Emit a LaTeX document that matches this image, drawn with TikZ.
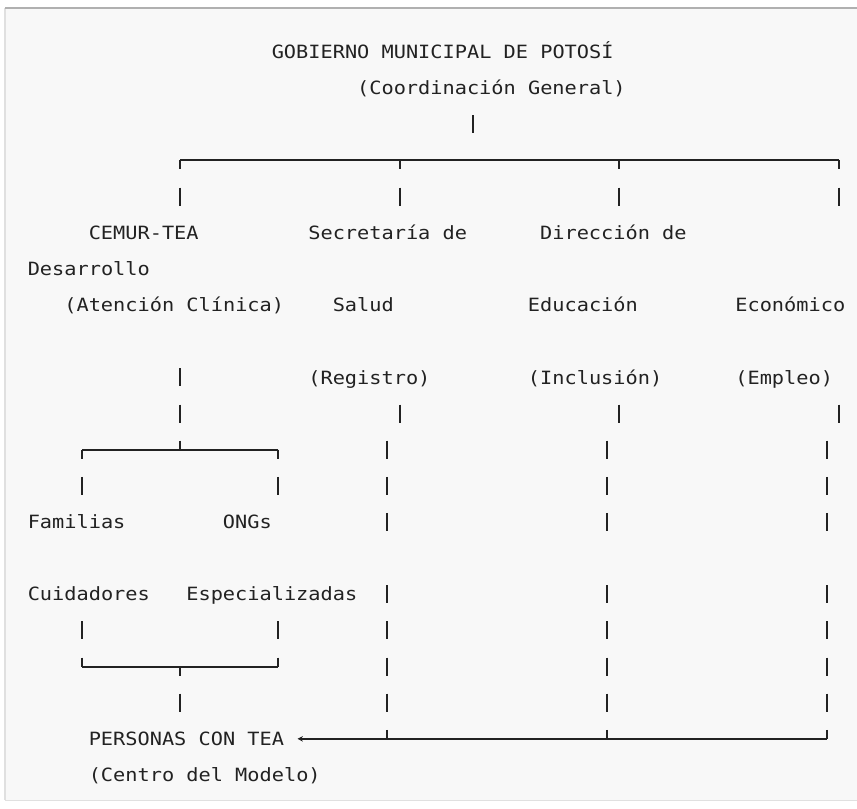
\documentclass[tikz,border=0pt]{standalone}
\usepackage{fontspec}
\newfontfamily\diagfont{DejaVu Sans Mono}[FakeStretch=1.11]
\usetikzlibrary{arrows.meta}

\definecolor{framebg}{HTML}{F8F8F8}
\definecolor{frameline}{HTML}{B0B0B0}
\definecolor{framelight}{HTML}{E0E0E0}
\definecolor{ink}{HTML}{222222}

\tikzset{
celltext/.style={anchor=west,inner sep=0pt,text=ink,
  font=\diagfont\fontsize{13.7pt}{16pt}\selectfont,
  text height=12.3pt,text depth=2.3pt},
treeline/.style={draw=ink,line width=1.5pt},
glyphbar/.style={draw=ink,line width=1.5pt,dash pattern=on 13.5pt off 13.6125pt},
glyphhalf/.style={glyphbar,dash phase=6.75pt}
}

\begin{document}
\begin{tikzpicture}[x=0.75pt,y=-0.75pt]

%%%%%%%%%%%%%%%%%%%%%%%%%%%%%%%%%%%%%%%%%%%%%%%%%%%%%%
% OUTER FRAME
%%%%%%%%%%%%%%%%%%%%%%%%%%%%%%%%%%%%%%%%%%%%%%%%%%%%%%

\useasboundingbox[fill=white] (0,0) rectangle (857,808);
\fill[framebg] (5,8) rectangle (858,800);
\draw[framelight,line width=1.5pt] (5,800) -- (5,8);
\draw[framelight] (5,800) -- (858,800);
\draw[frameline,line width=2pt] (5,8) -- (858,8);

%%%%%%%%%%%%%%%%%%%%%%%%%%%%%%%%%%%%%%%%%%%%%%%%%%%%%%
% GOBIERNO
%%%%%%%%%%%%%%%%%%%%%%%%%%%%%%%%%%%%%%%%%%%%%%%%%%%%%%

\node[celltext](gob) at (271.5,52) {GOBIERNO MUNICIPAL DE POTOSÍ};
\node[celltext](gobsub) at (356.9,88.15) {(Coordinación General)};

%%%%%%%%%%%%%%%%%%%%%%%%%%%%%%%%%%%%%%%%%%%%%%%%%%%%%%
% BRANCHES
%%%%%%%%%%%%%%%%%%%%%%%%%%%%%%%%%%%%%%%%%%%%%%%%%%%%%%

\node[celltext](cemur) at (88.5,232.75) {CEMUR-TEA};
\node[celltext](cemursub) at (64.1,305.05) {(Atención Clínica)};

\node[celltext](salud) at (308.1,232.75) {Secretaría de};
\node[celltext](saludb) at (332.5,305.05) {Salud};
\node[celltext](saludsub) at (308.1,377.35) {(Registro)};

\node[celltext](edu) at (539.9,232.75) {Dirección de};
\node[celltext](edub) at (527.7,305.05) {Educación};
\node[celltext](edusub) at (527.7,377.35) {(Inclusión)};

\node[celltext](desa) at (27.5,268.9) {Desarrollo};
\node[celltext](econ) at (735.1,305.05) {Económico};
\node[celltext](econsub) at (735.1,377.35) {(Empleo)};

%%%%%%%%%%%%%%%%%%%%%%%%%%%%%%%%%%%%%%%%%%%%%%%%%%%%%%
% SUPPORT
%%%%%%%%%%%%%%%%%%%%%%%%%%%%%%%%%%%%%%%%%%%%%%%%%%%%%%

\node[celltext](fam) at (27.5,521.95) {Familias};
\node[celltext](famb) at (27.5,594.25) {Cuidadores};
\node[celltext](ong) at (222.7,521.95) {ONGs};
\node[celltext](ongb) at (186.1,594.25) {Especializadas};

%%%%%%%%%%%%%%%%%%%%%%%%%%%%%%%%%%%%%%%%%%%%%%%%%%%%%%
% PERSONAS
%%%%%%%%%%%%%%%%%%%%%%%%%%%%%%%%%%%%%%%%%%%%%%%%%%%%%%

\node[celltext](tea) at (88.5,738.85) {PERSONAS CON TEA};
\node[celltext](teasub) at (88.5,775) {(Centro del Modelo)};

%%%%%%%%%%%%%%%%%%%%%%%%%%%%%%%%%%%%%%%%%%%%%%%%%%%%%%
% JUNCTIONS
%%%%%%%%%%%%%%%%%%%%%%%%%%%%%%%%%%%%%%%%%%%%%%%%%%%%%%

\coordinate (gobtop) at (472.8,115.3);
\coordinate (gobbot) at (472.8,133.3);

\coordinate (busa) at (180.0,160.45);
\coordinate (busb) at (399.6,160.45);
\coordinate (busc) at (619.2,160.45);
\coordinate (busd) at (838.8,160.45);

\coordinate (cemurtop) at (180.0,205.6);
\coordinate (saludtop) at (399.6,205.6);
\coordinate (edutop) at (619.2,205.6);
\coordinate (econtop) at (838.8,205.6);

\coordinate (cemurdown) at (180.0,368.35);
\coordinate (saluddown) at (399.6,404.5);
\coordinate (edudown) at (619.2,404.5);
\coordinate (econdown) at (838.8,404.5);
\coordinate (saludend) at (399.6,422.5);
\coordinate (eduend) at (619.2,422.5);
\coordinate (econend) at (838.8,422.5);

\coordinate (suptee) at (180.0,449.65);
\coordinate (supl) at (82.4,449.65);
\coordinate (supr) at (277.6,449.65);
\coordinate (famtop) at (82.4,494.8);
\coordinate (ongtop) at (277.6,494.8);
\coordinate (famdown) at (82.4,621.4);
\coordinate (ongdown) at (277.6,621.4);
\coordinate (joinl) at (82.4,666.55);
\coordinate (joinr) at (277.6,666.55);
\coordinate (jointee) at (180.0,666.55);
\coordinate (joinend) at (180.0,711.7);

\coordinate (saludlow) at (387.4,440.65);
\coordinate (edulow) at (607.0,440.65);
\coordinate (econlow) at (826.6,440.65);
\coordinate (saludgap) at (387.4,530.95);
\coordinate (edugap) at (607.0,530.95);
\coordinate (econgap) at (826.6,530.95);
\coordinate (saludlast) at (387.4,585.25);
\coordinate (edulast) at (607.0,585.25);
\coordinate (econlast) at (826.6,585.25);
\coordinate (teab) at (387.4,738.85);
\coordinate (teac) at (607.0,738.85);
\coordinate (tead) at (826.6,738.85);
\coordinate (teatip) at (297.5,738.85);

%%%%%%%%%%%%%%%%%%%%%%%%%%%%%%%%%%%%%%%%%%%%%%%%%%%%%%
% LINES
%%%%%%%%%%%%%%%%%%%%%%%%%%%%%%%%%%%%%%%%%%%%%%%%%%%%%%

\draw[treeline] (gobtop)--(gobbot);

\draw[treeline] (busa)--(busd);
\draw[glyphhalf] (busa)--(cemurtop);
\draw[glyphhalf] (busb)--(saludtop);
\draw[glyphhalf] (busc)--(edutop);
\draw[glyphhalf] (busd)--(econtop);

\draw[glyphbar] (cemurdown)--(suptee);
\draw[treeline] (saluddown)--(saludend);
\draw[treeline] (edudown)--(eduend);
\draw[treeline] (econdown)--(econend);

\draw[treeline] (supl)--(supr);
\draw[glyphhalf] (supl)--(famtop);
\draw[glyphhalf] (supr)--(ongtop);

\draw[glyphbar] (famdown)--(joinl);
\draw[glyphbar] (ongdown)--(joinr);
\draw[treeline] (joinl)--(joinr);
\draw[glyphhalf] (jointee)--(joinend);

\draw[glyphbar] (saludlow)--(saludgap);
\draw[glyphbar] (edulow)--(edugap);
\draw[glyphbar] (econlow)--(econgap);
\draw[glyphbar] (saludlast)--(teab);
\draw[glyphbar] (edulast)--(teac);
\draw[glyphbar] (econlast)--(tead);
\draw[treeline,-{Stealth[length=4pt,width=4pt]}] (tead)--(teatip);

\end{tikzpicture}
\end{document}
